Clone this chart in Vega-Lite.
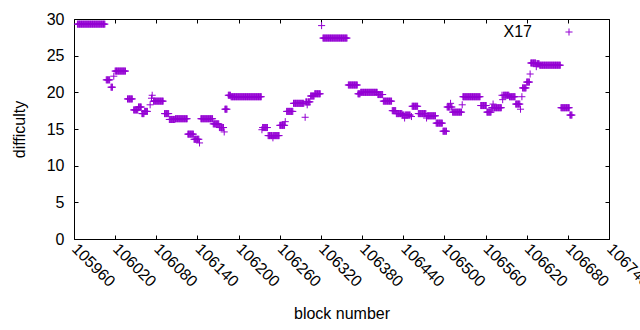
{
"$schema":"https://vega.github.io/schema/vega-lite/v6.json",
"width":535,"height":220,"autosize":"none",
"padding":{"left":74,"top":19,"right":31,"bottom":91},
"background":"white",
"config":{"view":{"stroke":"#000","strokeWidth":1},"font":"Liberation Sans",
"axis":{"labelFont":"Liberation Sans","labelFontSize":16,"labelColor":"#000","titleFont":"Liberation Sans","titleFontSize":16,"titleFontWeight":"normal","titleColor":"#000","tickColor":"#000","tickWidth":1,"domain":false,"grid":false}},
"data":{"values":[
{"b":105965,"d":29.3},{"b":105966,"d":29.3},{"b":105967,"d":29.3},{"b":105968,"d":29.3},{"b":105969,"d":29.3},{"b":105970,"d":29.3},{"b":105971,"d":29.3},{"b":105972,"d":29.3},{"b":105973,"d":29.3},{"b":105974,"d":29.3},{"b":105975,"d":29.3},{"b":105976,"d":29.3},{"b":105977,"d":29.3},{"b":105978,"d":29.3},{"b":105979,"d":29.3},{"b":105980,"d":29.3},{"b":105981,"d":29.3},{"b":105982,"d":29.3},{"b":105983,"d":29.3},{"b":105984,"d":29.3},{"b":105985,"d":29.3},{"b":105986,"d":29.3},{"b":105987,"d":29.3},{"b":105988,"d":29.3},{"b":105989,"d":29.3},{"b":105990,"d":29.3},{"b":105991,"d":29.3},{"b":105992,"d":29.3},{"b":105993,"d":29.3},{"b":105994,"d":29.3},{"b":105995,"d":29.3},{"b":105996,"d":29.3},{"b":105997,"d":29.3},{"b":105998,"d":29.3},{"b":105999,"d":29.3},{"b":106000,"d":29.3},{"b":106001,"d":29.3},{"b":106002,"d":29.3},{"b":106003,"d":29.3},{"b":106004,"d":29.3},{"b":106005,"d":29.3},
{"b":106007,"d":21.7},{"b":106008,"d":21.7},{"b":106009,"d":21.7},{"b":106010,"d":21.7},{"b":106011,"d":21.7},{"b":106012,"d":21.7},
{"b":106014,"d":20.7},{"b":106015,"d":20.7},{"b":106016,"d":20.7},
{"b":106018,"d":22.2},
{"b":106020,"d":22.9},{"b":106021,"d":22.9},{"b":106022,"d":22.9},{"b":106023,"d":22.9},{"b":106024,"d":22.9},{"b":106025,"d":22.9},{"b":106026,"d":22.9},{"b":106027,"d":22.9},{"b":106028,"d":22.9},{"b":106029,"d":22.9},{"b":106030,"d":22.9},{"b":106031,"d":22.9},{"b":106032,"d":22.9},{"b":106033,"d":22.9},{"b":106034,"d":22.9},{"b":106035,"d":22.9},
{"b":106038,"d":19.1},{"b":106039,"d":19.1},{"b":106040,"d":19.1},{"b":106041,"d":19.1},{"b":106042,"d":19.1},{"b":106043,"d":19.1},{"b":106044,"d":19.1},{"b":106045,"d":19.1},
{"b":106047,"d":17.6},{"b":106048,"d":17.6},{"b":106049,"d":17.6},{"b":106050,"d":17.6},{"b":106051,"d":17.6},{"b":106052,"d":17.6},{"b":106053,"d":17.6},
{"b":106054,"d":18.0},{"b":106055,"d":18.0},{"b":106056,"d":18.0},{"b":106057,"d":18.0},{"b":106058,"d":18.0},
{"b":106059,"d":17.1},{"b":106060,"d":17.1},{"b":106061,"d":17.1},{"b":106062,"d":17.1},
{"b":106063,"d":17.4},{"b":106064,"d":17.4},{"b":106065,"d":17.4},{"b":106066,"d":17.4},{"b":106067,"d":17.4},
{"b":106071,"d":18.3},{"b":106073,"d":19.2},{"b":106074,"d":19.6},
{"b":106076,"d":18.8},{"b":106077,"d":18.8},{"b":106078,"d":18.8},{"b":106079,"d":18.8},{"b":106080,"d":18.8},{"b":106081,"d":18.8},{"b":106082,"d":18.8},{"b":106083,"d":18.8},{"b":106084,"d":18.8},{"b":106085,"d":18.8},{"b":106086,"d":18.8},{"b":106087,"d":18.8},{"b":106088,"d":18.8},{"b":106089,"d":18.8},{"b":106090,"d":18.8},
{"b":106092,"d":17.1},{"b":106093,"d":17.1},{"b":106094,"d":17.1},{"b":106095,"d":17.1},{"b":106096,"d":17.1},{"b":106097,"d":17.1},{"b":106098,"d":17.1},
{"b":106099,"d":16.3},{"b":106100,"d":16.3},{"b":106101,"d":16.3},{"b":106102,"d":16.3},{"b":106103,"d":16.3},{"b":106104,"d":16.3},{"b":106105,"d":16.3},{"b":106106,"d":16.3},{"b":106107,"d":16.3},
{"b":106108,"d":16.4},{"b":106109,"d":16.4},{"b":106110,"d":16.4},{"b":106111,"d":16.4},{"b":106112,"d":16.4},{"b":106113,"d":16.4},{"b":106114,"d":16.4},{"b":106115,"d":16.4},{"b":106116,"d":16.4},{"b":106117,"d":16.4},{"b":106118,"d":16.4},{"b":106119,"d":16.4},{"b":106120,"d":16.4},{"b":106121,"d":16.4},{"b":106122,"d":16.4},{"b":106123,"d":16.4},{"b":106124,"d":16.4},{"b":106125,"d":16.4},
{"b":106126,"d":14.3},{"b":106127,"d":14.3},{"b":106128,"d":14.3},{"b":106129,"d":14.3},{"b":106130,"d":14.3},{"b":106131,"d":14.3},{"b":106132,"d":14.3},{"b":106133,"d":14.3},{"b":106134,"d":14.3},
{"b":106135,"d":13.6},{"b":106136,"d":13.6},{"b":106137,"d":13.6},{"b":106138,"d":13.6},{"b":106139,"d":13.6},{"b":106140,"d":13.6},{"b":106141,"d":13.6},{"b":106142,"d":13.6},
{"b":106143,"d":13.1},
{"b":106145,"d":16.4},{"b":106146,"d":16.4},{"b":106147,"d":16.4},{"b":106148,"d":16.4},{"b":106149,"d":16.4},{"b":106150,"d":16.4},{"b":106151,"d":16.4},{"b":106152,"d":16.4},{"b":106153,"d":16.4},{"b":106154,"d":16.4},{"b":106155,"d":16.4},{"b":106156,"d":16.4},{"b":106157,"d":16.4},{"b":106158,"d":16.4},{"b":106159,"d":16.4},{"b":106160,"d":16.4},{"b":106161,"d":16.4},{"b":106162,"d":16.4},
{"b":106163,"d":15.7},{"b":106164,"d":15.7},{"b":106165,"d":15.7},{"b":106166,"d":15.7},{"b":106167,"d":15.7},{"b":106168,"d":15.7},{"b":106169,"d":15.7},{"b":106170,"d":15.7},{"b":106171,"d":15.7},
{"b":106172,"d":15.2},{"b":106173,"d":15.2},{"b":106174,"d":15.2},{"b":106175,"d":15.2},{"b":106176,"d":15.2},{"b":106177,"d":15.2},{"b":106178,"d":15.2},
{"b":106179,"d":14.6},
{"b":106180,"d":17.7},{"b":106181,"d":17.7},{"b":106182,"d":17.7},{"b":106183,"d":17.7},
{"b":106185,"d":19.6},{"b":106186,"d":19.6},{"b":106187,"d":19.6},{"b":106188,"d":19.6},
{"b":106189,"d":19.4},{"b":106190,"d":19.4},{"b":106191,"d":19.4},{"b":106192,"d":19.4},{"b":106193,"d":19.4},{"b":106194,"d":19.4},{"b":106195,"d":19.4},{"b":106196,"d":19.4},{"b":106197,"d":19.4},{"b":106198,"d":19.4},{"b":106199,"d":19.4},{"b":106200,"d":19.4},{"b":106201,"d":19.4},{"b":106202,"d":19.4},{"b":106203,"d":19.4},{"b":106204,"d":19.4},{"b":106205,"d":19.4},{"b":106206,"d":19.4},{"b":106207,"d":19.4},{"b":106208,"d":19.4},{"b":106209,"d":19.4},{"b":106210,"d":19.4},{"b":106211,"d":19.4},{"b":106212,"d":19.4},{"b":106213,"d":19.4},{"b":106214,"d":19.4},{"b":106215,"d":19.4},{"b":106216,"d":19.4},{"b":106217,"d":19.4},{"b":106218,"d":19.4},{"b":106219,"d":19.4},{"b":106220,"d":19.4},{"b":106221,"d":19.4},{"b":106222,"d":19.4},{"b":106223,"d":19.4},{"b":106224,"d":19.4},{"b":106225,"d":19.4},{"b":106226,"d":19.4},{"b":106227,"d":19.4},{"b":106228,"d":19.4},{"b":106229,"d":19.4},{"b":106230,"d":19.4},{"b":106231,"d":19.4},{"b":106232,"d":19.4},{"b":106233,"d":19.4},
{"b":106234,"d":14.9},
{"b":106235,"d":15.2},{"b":106236,"d":15.2},{"b":106237,"d":15.2},{"b":106238,"d":15.2},{"b":106239,"d":15.2},{"b":106240,"d":15.2},{"b":106241,"d":15.2},{"b":106242,"d":15.2},
{"b":106243,"d":14.1},{"b":106244,"d":14.1},{"b":106245,"d":14.1},{"b":106246,"d":14.1},{"b":106247,"d":14.1},{"b":106248,"d":14.1},{"b":106249,"d":14.1},{"b":106250,"d":13.8},{"b":106251,"d":14.1},{"b":106252,"d":14.1},{"b":106253,"d":14.1},{"b":106254,"d":14.1},{"b":106255,"d":14.1},{"b":106256,"d":14.1},{"b":106257,"d":14.1},{"b":106258,"d":14.1},{"b":106259,"d":14.1},
{"b":106260,"d":15.5},{"b":106261,"d":15.5},{"b":106262,"d":15.5},{"b":106263,"d":15.5},{"b":106264,"d":15.5},{"b":106265,"d":15.5},{"b":106266,"d":15.5},{"b":106267,"d":15.5},
{"b":106268,"d":16.0},
{"b":106270,"d":17.4},{"b":106271,"d":17.4},{"b":106272,"d":17.4},{"b":106273,"d":17.4},{"b":106274,"d":17.4},{"b":106275,"d":17.4},{"b":106276,"d":17.4},{"b":106277,"d":17.4},{"b":106278,"d":17.4},{"b":106279,"d":17.4},
{"b":106280,"d":18.5},{"b":106281,"d":18.5},{"b":106282,"d":18.5},{"b":106283,"d":18.5},{"b":106284,"d":18.5},{"b":106285,"d":18.5},{"b":106286,"d":18.5},{"b":106287,"d":18.5},{"b":106288,"d":18.5},{"b":106289,"d":18.5},{"b":106290,"d":18.5},{"b":106291,"d":18.5},{"b":106292,"d":18.5},{"b":106293,"d":18.5},{"b":106294,"d":18.5},{"b":106295,"d":18.5},
{"b":106297,"d":16.6},
{"b":106298,"d":18.7},{"b":106299,"d":18.7},{"b":106300,"d":18.3},{"b":106301,"d":18.7},{"b":106302,"d":18.7},{"b":106303,"d":18.7},{"b":106304,"d":18.7},
{"b":106305,"d":19.5},{"b":106306,"d":19.5},{"b":106307,"d":19.5},{"b":106308,"d":19.5},{"b":106309,"d":19.5},{"b":106310,"d":19.5},
{"b":106311,"d":19.8},{"b":106312,"d":19.8},{"b":106313,"d":19.8},{"b":106314,"d":19.8},{"b":106315,"d":19.8},{"b":106316,"d":19.8},{"b":106317,"d":19.8},{"b":106318,"d":19.8},{"b":106319,"d":19.8},
{"b":106321,"d":29.1},
{"b":106323,"d":27.4},{"b":106324,"d":27.4},{"b":106325,"d":27.4},{"b":106326,"d":27.4},{"b":106327,"d":27.4},{"b":106328,"d":27.4},{"b":106329,"d":27.4},{"b":106330,"d":27.4},{"b":106331,"d":27.4},{"b":106332,"d":27.4},{"b":106333,"d":27.4},{"b":106334,"d":27.4},{"b":106335,"d":27.4},{"b":106336,"d":27.4},{"b":106337,"d":27.4},{"b":106338,"d":27.4},{"b":106339,"d":27.4},{"b":106340,"d":27.4},{"b":106341,"d":27.4},{"b":106342,"d":27.4},{"b":106343,"d":27.4},{"b":106344,"d":27.4},{"b":106345,"d":27.4},{"b":106346,"d":27.4},{"b":106347,"d":27.4},{"b":106348,"d":27.4},{"b":106349,"d":27.4},{"b":106350,"d":27.4},{"b":106351,"d":27.4},{"b":106352,"d":27.4},{"b":106353,"d":27.4},{"b":106354,"d":27.4},{"b":106355,"d":27.4},{"b":106356,"d":27.4},{"b":106357,"d":27.4},{"b":106358,"d":27.4},
{"b":106360,"d":21.0},{"b":106361,"d":21.0},{"b":106362,"d":21.0},{"b":106363,"d":21.0},{"b":106364,"d":21.0},{"b":106365,"d":21.0},{"b":106366,"d":21.0},{"b":106367,"d":21.0},{"b":106368,"d":21.0},{"b":106369,"d":21.0},{"b":106370,"d":21.0},{"b":106371,"d":21.0},{"b":106372,"d":21.0},{"b":106373,"d":21.0},
{"b":106374,"d":19.8},{"b":106375,"d":19.8},{"b":106376,"d":19.8},{"b":106377,"d":19.8},
{"b":106378,"d":20.0},{"b":106379,"d":20.0},{"b":106380,"d":20.0},{"b":106381,"d":20.0},{"b":106382,"d":20.0},{"b":106383,"d":20.0},{"b":106384,"d":20.0},{"b":106385,"d":20.0},{"b":106386,"d":20.0},{"b":106387,"d":20.0},{"b":106388,"d":20.0},{"b":106389,"d":20.0},{"b":106390,"d":20.0},{"b":106391,"d":20.0},{"b":106392,"d":20.0},{"b":106393,"d":20.0},{"b":106394,"d":20.0},{"b":106395,"d":20.0},{"b":106396,"d":20.0},{"b":106397,"d":20.0},{"b":106398,"d":20.0},{"b":106399,"d":20.0},{"b":106400,"d":20.0},{"b":106401,"d":20.0},{"b":106402,"d":20.0},
{"b":106403,"d":19.7},{"b":106404,"d":19.7},{"b":106405,"d":19.7},{"b":106406,"d":19.7},{"b":106407,"d":19.7},{"b":106408,"d":19.7},{"b":106409,"d":19.7},{"b":106410,"d":19.7},
{"b":106411,"d":18.8},{"b":106412,"d":18.8},{"b":106413,"d":18.8},{"b":106414,"d":18.8},{"b":106415,"d":18.8},{"b":106416,"d":18.8},{"b":106417,"d":18.8},{"b":106418,"d":18.8},{"b":106419,"d":18.8},{"b":106420,"d":18.8},{"b":106421,"d":18.8},{"b":106422,"d":18.8},{"b":106423,"d":18.8},
{"b":106424,"d":17.5},{"b":106425,"d":17.5},{"b":106426,"d":17.5},{"b":106427,"d":17.5},{"b":106428,"d":17.5},{"b":106429,"d":17.5},
{"b":106430,"d":17.1},{"b":106431,"d":17.1},{"b":106432,"d":17.1},{"b":106433,"d":17.1},{"b":106434,"d":17.1},{"b":106435,"d":17.1},{"b":106436,"d":17.1},{"b":106437,"d":17.1},{"b":106438,"d":17.1},
{"b":106439,"d":16.9},{"b":106440,"d":16.9},{"b":106441,"d":16.9},{"b":106442,"d":16.5},{"b":106443,"d":16.9},{"b":106444,"d":16.9},{"b":106445,"d":16.9},{"b":106446,"d":16.9},{"b":106447,"d":16.9},{"b":106448,"d":16.9},{"b":106449,"d":16.9},{"b":106450,"d":16.9},
{"b":106452,"d":16.7},
{"b":106453,"d":18.1},{"b":106454,"d":18.1},{"b":106455,"d":18.1},{"b":106456,"d":18.1},{"b":106457,"d":18.1},{"b":106458,"d":18.1},{"b":106459,"d":18.1},{"b":106460,"d":18.1},{"b":106461,"d":18.1},
{"b":106462,"d":17.1},{"b":106463,"d":17.1},{"b":106464,"d":17.1},{"b":106465,"d":17.1},{"b":106466,"d":17.1},{"b":106467,"d":17.1},{"b":106468,"d":17.1},{"b":106469,"d":17.1},{"b":106470,"d":17.1},{"b":106471,"d":17.1},{"b":106472,"d":17.1},{"b":106473,"d":17.1},
{"b":106474,"d":16.5},
{"b":106475,"d":16.8},{"b":106476,"d":16.8},{"b":106477,"d":16.8},{"b":106478,"d":16.8},{"b":106479,"d":16.8},{"b":106480,"d":16.8},{"b":106481,"d":16.8},{"b":106482,"d":16.8},{"b":106483,"d":16.8},{"b":106484,"d":16.8},{"b":106485,"d":16.8},{"b":106486,"d":16.8},{"b":106487,"d":16.8},
{"b":106488,"d":15.8},{"b":106489,"d":15.8},{"b":106490,"d":15.8},{"b":106491,"d":15.8},{"b":106492,"d":15.8},{"b":106493,"d":15.8},{"b":106494,"d":15.8},{"b":106495,"d":15.8},{"b":106496,"d":15.8},{"b":106497,"d":15.8},
{"b":106498,"d":14.7},{"b":106499,"d":14.7},{"b":106500,"d":14.7},{"b":106501,"d":14.7},{"b":106502,"d":14.7},{"b":106503,"d":14.7},
{"b":106504,"d":18.0},{"b":106505,"d":18.0},{"b":106506,"d":18.0},{"b":106507,"d":18.0},{"b":106508,"d":18.0},{"b":106509,"d":18.5},{"b":106510,"d":18.0},{"b":106511,"d":18.0},
{"b":106512,"d":17.3},{"b":106513,"d":17.3},{"b":106514,"d":17.3},{"b":106515,"d":17.3},{"b":106516,"d":17.3},{"b":106517,"d":17.3},{"b":106518,"d":17.3},{"b":106519,"d":17.3},{"b":106520,"d":17.3},{"b":106521,"d":17.3},{"b":106522,"d":17.3},{"b":106523,"d":17.3},{"b":106524,"d":17.3},{"b":106525,"d":17.3},
{"b":106526,"d":18.3},
{"b":106527,"d":19.4},{"b":106528,"d":19.4},{"b":106529,"d":19.4},{"b":106530,"d":19.4},{"b":106531,"d":19.4},{"b":106532,"d":19.4},{"b":106533,"d":19.4},{"b":106534,"d":19.4},{"b":106535,"d":19.4},{"b":106536,"d":19.4},{"b":106537,"d":19.4},{"b":106538,"d":19.4},{"b":106539,"d":19.4},{"b":106540,"d":19.4},{"b":106541,"d":19.4},{"b":106542,"d":19.4},{"b":106543,"d":19.4},{"b":106544,"d":19.4},{"b":106545,"d":19.4},{"b":106546,"d":19.4},{"b":106547,"d":19.4},{"b":106548,"d":19.4},{"b":106549,"d":19.4},{"b":106550,"d":19.4},{"b":106551,"d":19.4},{"b":106552,"d":19.4},
{"b":106553,"d":18.2},{"b":106554,"d":18.2},{"b":106555,"d":18.2},{"b":106556,"d":18.2},{"b":106557,"d":18.2},{"b":106558,"d":18.2},{"b":106559,"d":18.2},{"b":106560,"d":18.2},{"b":106561,"d":18.2},
{"b":106562,"d":17.3},{"b":106563,"d":17.3},{"b":106564,"d":17.3},{"b":106565,"d":17.3},{"b":106566,"d":17.3},{"b":106567,"d":17.3},{"b":106568,"d":17.3},
{"b":106569,"d":17.9},{"b":106570,"d":17.9},{"b":106571,"d":18.4},{"b":106572,"d":17.9},{"b":106573,"d":17.9},{"b":106574,"d":17.9},{"b":106575,"d":17.9},{"b":106576,"d":17.9},{"b":106577,"d":17.9},{"b":106578,"d":17.9},{"b":106579,"d":17.9},{"b":106580,"d":17.9},{"b":106581,"d":17.9},{"b":106582,"d":17.9},{"b":106583,"d":17.9},
{"b":106584,"d":19.6},{"b":106585,"d":19.0},{"b":106586,"d":19.6},{"b":106587,"d":19.6},{"b":106588,"d":19.6},{"b":106589,"d":19.6},{"b":106590,"d":19.6},{"b":106591,"d":19.6},{"b":106592,"d":19.6},{"b":106593,"d":19.6},{"b":106594,"d":19.6},
{"b":106595,"d":19.4},{"b":106596,"d":19.4},{"b":106597,"d":19.4},{"b":106598,"d":19.4},{"b":106599,"d":19.4},{"b":106600,"d":19.4},{"b":106601,"d":19.4},{"b":106602,"d":19.4},{"b":106603,"d":19.4},
{"b":106604,"d":18.4},{"b":106605,"d":18.4},{"b":106606,"d":18.4},{"b":106607,"d":18.4},{"b":106608,"d":18.4},{"b":106609,"d":18.4},{"b":106610,"d":18.4},
{"b":106611,"d":17.7},{"b":106613,"d":19.4},
{"b":106614,"d":20.6},{"b":106615,"d":20.6},{"b":106616,"d":20.6},{"b":106617,"d":20.6},{"b":106618,"d":20.6},{"b":106619,"d":20.6},
{"b":106620,"d":21.4},{"b":106621,"d":21.4},{"b":106622,"d":21.4},{"b":106623,"d":21.4},{"b":106624,"d":21.4},
{"b":106625,"d":22.5},
{"b":106626,"d":24.0},{"b":106627,"d":24.0},{"b":106628,"d":24.0},{"b":106629,"d":24.0},{"b":106630,"d":24.0},{"b":106631,"d":24.0},{"b":106632,"d":24.0},{"b":106633,"d":24.0},
{"b":106634,"d":23.5},
{"b":106635,"d":23.9},{"b":106636,"d":23.9},{"b":106637,"d":23.9},{"b":106638,"d":23.9},
{"b":106639,"d":23.7},{"b":106640,"d":23.7},{"b":106641,"d":23.7},{"b":106642,"d":23.7},{"b":106643,"d":23.7},{"b":106644,"d":23.7},{"b":106645,"d":23.7},{"b":106646,"d":23.7},{"b":106647,"d":23.7},{"b":106648,"d":23.7},{"b":106649,"d":23.7},{"b":106650,"d":23.7},{"b":106651,"d":23.7},{"b":106652,"d":23.7},{"b":106653,"d":23.7},{"b":106654,"d":23.7},{"b":106655,"d":23.7},{"b":106656,"d":23.7},{"b":106657,"d":23.7},{"b":106658,"d":23.7},{"b":106659,"d":23.7},{"b":106660,"d":23.7},{"b":106661,"d":23.7},{"b":106662,"d":23.7},{"b":106663,"d":23.7},{"b":106664,"d":23.7},{"b":106665,"d":23.7},{"b":106666,"d":23.7},{"b":106667,"d":23.7},{"b":106668,"d":23.7},{"b":106669,"d":23.7},
{"b":106670,"d":17.9},{"b":106671,"d":17.9},{"b":106672,"d":17.9},{"b":106673,"d":17.9},{"b":106674,"d":17.9},{"b":106675,"d":17.9},{"b":106676,"d":17.9},{"b":106677,"d":17.9},{"b":106678,"d":17.9},{"b":106679,"d":17.9},{"b":106680,"d":17.9},{"b":106681,"d":17.9},{"b":106682,"d":17.9},
{"b":106683,"d":16.9},{"b":106684,"d":16.9},{"b":106685,"d":16.9},{"b":106686,"d":16.9}
]},
"layer":[
{"mark":{"type":"point","shape":"M-1,0H1M0,-1V1","filled":false,"strokeWidth":1,"size":50,"opacity":1},
 "encoding":{
  "x":{"field":"b","type":"quantitative","scale":{"domain":[105960,106740],"nice":false,"zero":false},
   "axis":{"orient":"bottom","values":[105960,106020,106080,106140,106200,106260,106320,106380,106440,106500,106560,106620,106680,106740],"format":"d","title":"block number","labelAngle":45,"labelAlign":"left","labelBaseline":"middle","labelPadding":11,"tickSize":-4,"titlePadding":16,"labelOverlap":false,"labelFlush":false,"labelBound":false}},
  "y":{"field":"d","type":"quantitative","scale":{"domain":[0,30],"nice":false},
   "axis":{"orient":"left","values":[0,5,10,15,20,25,30],"title":"difficulty","tickSize":-4,"labelPadding":14,"titlePadding":19,"labelOverlap":false,"labelFlush":false}},
  "color":{"datum":"X17","type":"nominal","scale":{"range":["#9400D3"]},
   "legend":{"orient":"none","legendX":487,"legendY":5,"title":null,"labelAlign":"right","labelOffset":-45,"labelFont":"Liberation Sans","labelFontSize":16,"labelColor":"#000","symbolType":"M-1,0H1M0,-1V1","symbolSize":50,"symbolStrokeWidth":1,"symbolFillColor":"transparent","symbolStrokeColor":"#9400D3","padding":0}}
 }},
{"mark":{"type":"point","opacity":0},
 "encoding":{
  "x":{"field":"b","type":"quantitative","scale":{"domain":[105960,106740],"nice":false,"zero":false},
   "axis":{"orient":"top","values":[105960,106020,106080,106140,106200,106260,106320,106380,106440,106500,106560,106620,106680,106740],"labels":false,"title":null,"tickSize":-4}},
  "y":{"field":"d","type":"quantitative","scale":{"domain":[0,30],"nice":false},
   "axis":{"orient":"right","values":[0,5,10,15,20,25,30],"labels":false,"title":null,"tickSize":-4}}
 }}
],
"resolve":{"scale":{"x":"independent","y":"independent"}}
}
